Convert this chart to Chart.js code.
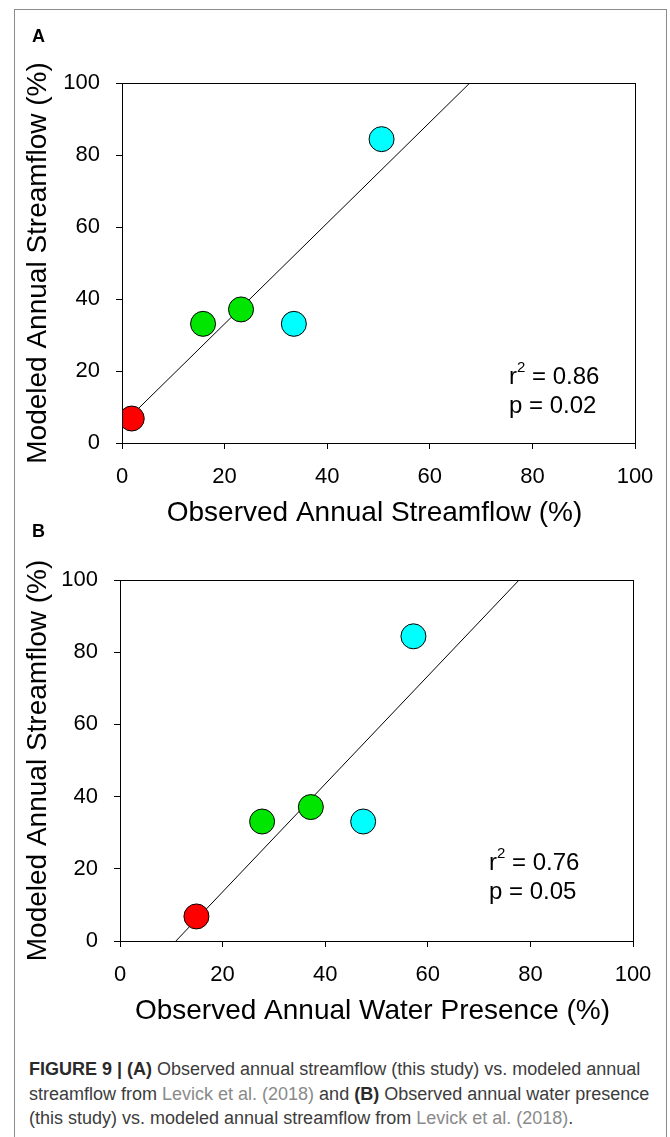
<!DOCTYPE html>
<html>
<head>
<meta charset="utf-8">
<script src="https://cdn.jsdelivr.net/npm/chart.js@4.4.1/dist/chart.umd.min.js"></script>
<style>
  html, body { margin: 0; padding: 0; background: #fff; }
  body { width: 670px; height: 1137px; position: relative; overflow: hidden; }
  .frame {
    position: absolute; left: 14px; top: 9px; width: 653px; height: 1200px;
    border: 1px solid #8c8c8c; border-bottom: none; box-sizing: border-box;
  }
  canvas.panel { position: absolute; left: 0; top: 0; }
  .caption {
    position: absolute; left: 29px; top: 1057px; width: 630px;
    font-family: "Liberation Sans", Arial, sans-serif;
    font-size: 18px; line-height: 24.5px; color: #3c3c3c; white-space: nowrap;
  }
  .caption b { color: #2a2a2a; }
  .caption .ref { color: #8a8a8a; }
</style>
</head>
<body>
<div class="frame"></div>
<canvas id="chart-a" class="panel" width="670" height="1040"></canvas>
<canvas id="chart-b" class="panel" width="670" height="1040"></canvas>
<div class="caption">
  <div><b>FIGURE 9 | (A)</b> Observed annual streamflow (this study) vs. modeled annual</div>
  <div>streamflow from <span class="ref">Levick et al. (2018)</span> and <b>(B)</b> Observed annual water presence</div>
  <div>(this study) vs. modeled annual streamflow from <span class="ref">Levick et al. (2018)</span>.</div>
</div>
<script>
(function () {
  // values
  const OBS_STREAMFLOW = [1.9, 15.8, 23.2, 33.5, 50.6];
  const OBS_WATER_PRESENCE = [14.9, 27.7, 37.2, 47.4, 57.2];
  const MODELED_STREAMFLOW = [6.8, 33.1, 37.1, 33.1, 84.4];
  const POINT_COLORS = ['#ff0000', '#00e600', '#00e600', '#00ffff', '#00ffff'];

  // regression lines (end points where they meet the axes)
  const FIT_A_X = [0, 67.8];
  const FIT_A_Y = [5.1, 100];
  const FIT_B_X = [10.9, 77.8];
  const FIT_B_Y = [0, 100];

  const AXIS_TICKS = [0, 20, 40, 60, 80, 100];

  const FONT = '"Liberation Sans", Arial, Helvetica, sans-serif';
  Chart.defaults.font.family = FONT;
  Chart.defaults.color = '#000';

  function pairs(xs, ys) {
    return xs.map((x, i) => ({ x: x, y: ys[i] }));
  }

  // axis titles, panel letter and stats text
  const textPlugin = {
    id: 'panelText',
    afterDraw(chart, args, opts) {
      const ctx = chart.ctx;
      const a = chart.chartArea;
      ctx.save();
      ctx.fillStyle = '#000';
      ctx.strokeStyle = '#000';
      ctx.lineWidth = 1;
      ctx.strokeRect(a.left + 0.5, a.top + 0.5, a.right - a.left, a.bottom - a.top);

      ctx.font = 'bold 18px ' + FONT;
      ctx.textAlign = 'left';
      ctx.textBaseline = 'middle';
      ctx.fillText(opts.letter, 32, opts.letterY);

      ctx.font = '28px ' + FONT;
      ctx.textAlign = 'center';
      ctx.fillText(opts.xTitle, (a.left + a.right) / 2 - 4, a.bottom + 70);

      ctx.save();
      ctx.translate(38, (a.top + a.bottom) / 2);
      ctx.rotate(-Math.PI / 2);
      ctx.fillText(opts.yTitle, 0, 0);
      ctx.restore();

      // r² and p
      ctx.textAlign = 'left';
      ctx.font = '24px ' + FONT;
      const sx = opts.statsX, sy = opts.statsY;
      ctx.fillText('r', sx, sy);
      const rw = ctx.measureText('r').width;
      ctx.font = '15px ' + FONT;
      ctx.fillText('2', sx + rw, sy - 9);
      const sw = ctx.measureText('2').width;
      ctx.font = '24px ' + FONT;
      ctx.fillText(' = ' + opts.r2, sx + rw + sw, sy);
      ctx.fillText('p = ' + opts.p, sx, sy + 29);
      ctx.restore();
    }
  };

  function makeScale(pad, fitKey, fitSize) {
    return {
      type: 'linear',
      min: 0,
      max: 100,
      afterBuildTicks: (s) => { s.ticks = AXIS_TICKS.map(v => ({ value: v })); },
      afterFit: (s) => { s[fitKey] = fitSize; },
      ticks: { font: { size: 22 }, color: '#000', padding: pad },
      grid: { display: true, drawOnChartArea: false, drawTicks: true, tickLength: 6, color: '#000' },
      border: { display: true, color: '#000', width: 1 }
    };
  }

  function render(id, xs, ys, fitX, fitY, padding, text) {
    new Chart(document.getElementById(id), {
      type: 'scatter',
      data: {
        datasets: [
          {
            label: 'sites',
            data: pairs(xs, ys),
            backgroundColor: POINT_COLORS,
            borderColor: '#000',
            borderWidth: 1,
            pointRadius: 12.5,
            pointHoverRadius: 12.5
          },
          {
            label: 'fit',
            type: 'line',
            data: pairs(fitX, fitY),
            borderColor: '#000',
            borderWidth: 1,
            pointRadius: 0,
            fill: false,
            tension: 0
          }
        ]
      },
      options: {
        responsive: false,
        animation: false,
        layout: { padding: padding },
        plugins: {
          legend: { display: false },
          tooltip: { enabled: false },
          panelText: text
        },
        scales: {
          x: makeScale(15, 'height', 60),
          y: makeScale(16, 'width', 60)
        }
      },
      plugins: [textPlugin]
    });
  }

  render('chart-a', OBS_STREAMFLOW, MODELED_STREAMFLOW, FIT_A_X, FIT_A_Y,
    { left: 62, top: 83, right: 35, bottom: 537 },
    { letter: 'A', letterY: 37, xTitle: 'Observed Annual Streamflow (%)',
      yTitle: 'Modeled Annual Streamflow (%)', statsX: 509, statsY: 377, r2: '0.86', p: '0.02' });

  render('chart-b', OBS_WATER_PRESENCE, MODELED_STREAMFLOW, FIT_B_X, FIT_B_Y,
    { left: 60, top: 580, right: 37, bottom: 39 },
    { letter: 'B', letterY: 532, xTitle: 'Observed Annual Water Presence (%)',
      yTitle: 'Modeled Annual Streamflow (%)', statsX: 489, statsY: 863, r2: '0.76', p: '0.05' });
})();
</script>
</body>
</html>
